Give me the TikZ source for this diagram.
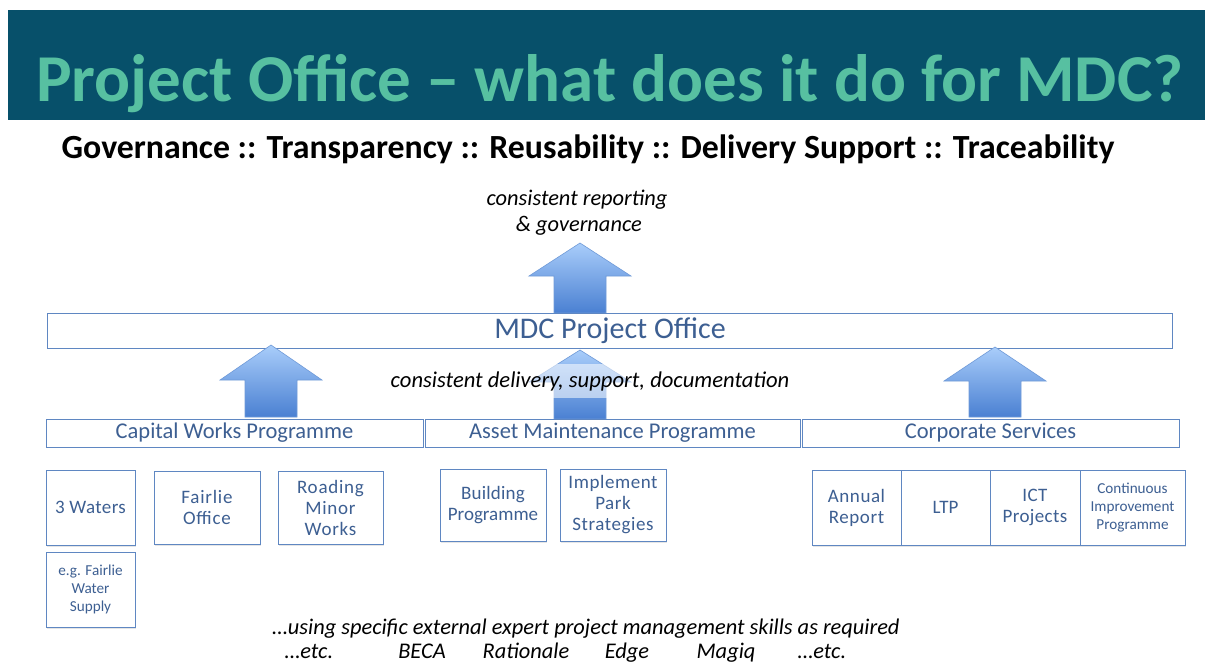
\documentclass[tikz,border=0pt]{standalone}
\usepackage{fontspec}
\setmainfont{Carlito}
\usetikzlibrary{shadows}
\definecolor{titlebg}{HTML}{07506A}
\definecolor{titlefg}{HTML}{57C0A1}
\definecolor{boxline}{HTML}{5F87C2}
\definecolor{boxtext}{HTML}{3D5F92}
\definecolor{arrowtop}{HTML}{A9CDFA}
\definecolor{arrowbot}{HTML}{4A80D2}
\definecolor{arrowline}{HTML}{6F9AD8}
% block arrow pointing up: centre x, tip y, shoulder y, base y
\newcommand{\blockup}[4]{%
  \shade[top color=arrowtop, bottom color=arrowbot, draw=arrowline, line width=0.6pt]
    (#1,#2) -- (#1+51,#3) -- (#1+26,#3) -- (#1+26,#4)
    -- (#1-26,#4) -- (#1-26,#3) -- (#1-51,#3) -- cycle;}
\newcommand{\spaced}[1]{\addfontfeature{LetterSpace=#1}}
\begin{document}
\begin{tikzpicture}[x=1pt, y=-1pt,
    barbox/.style={draw=boxline, fill=white, line width=0.8pt, text=boxtext,
      inner sep=0pt, font=\fontsize{22.5}{26}\selectfont},
    itembox/.style={draw=boxline, fill=white, line width=0.8pt, text=boxtext,
      align=center, inner sep=0pt, font=\fontsize{19}{21}\selectfont,
      drop shadow={opacity=0.2, shadow xshift=1pt, shadow yshift=-2pt}},
    smallbox/.style={itembox, font=\fontsize{15.2}{18}\selectfont},
    note/.style={align=center, font=\itshape\fontsize{22.4}{26}\selectfont}]
  \useasboundingbox[fill=white] (0,0) rectangle (1205,664);

  % title band
  \fill[titlebg] (8,10) rectangle (1205,120);
  \node[anchor=base, text=titlefg, font=\bfseries\fontsize{67}{74}\selectfont]
    (title) at (610,101) {Project Office -- what does it do for MDC?};
  \node[anchor=base, font=\bfseries\fontsize{33.8}{38}\selectfont]
    (aims) at (588,158) {Governance :: Transparency :: Reusability :: Delivery Support :: Traceability};

  % reporting upwards
  \node[note, anchor=base] (report) at (577,231) {consistent reporting\\\,\& governance};
  \blockup{580}{243}{276}{313}

  \node[barbox, minimum width=1125pt, minimum height=35pt,
    font=\fontsize{30}{34}\selectfont] (office) at (610,330.5) {MDC Project Office};

  \blockup{271}{345}{380}{417}
  \blockup{995}{347}{381}{417}
  \blockup{580}{350}{382}{419}
  \node[note, anchor=base, fill=white, fill opacity=0.55, text opacity=1,
    minimum height=34pt, font=\itshape\fontsize{22.6}{26}\selectfont]
    (delivery) at (590,387) {consistent delivery, support, documentation};

  % programmes
  \node[barbox, minimum width=377pt, minimum height=28pt] (capital) at (234.5,433) {Capital Works Programme};
  \node[barbox, minimum width=375pt, minimum height=28pt] (asset) at (612.5,433) {Asset Maintenance Programme};
  \node[barbox, minimum width=377pt, minimum height=28pt] (corporate) at (990.5,433) {Corporate Services};

  % projects
  \node[itembox, minimum width=89pt, minimum height=75pt] (waters) at (90.5,507.5) {\spaced{2}3 Waters};
  \node[smallbox, minimum width=89pt, minimum height=75pt] (fairliews) at (90.5,589.5) {e.g. Fairlie\\Water\\Supply};
  \node[itembox, minimum width=106pt, minimum height=73pt] (fairlie) at (207,507.5) {\spaced{4}Fairlie\\\spaced{4}Office};
  \node[itembox, minimum width=105pt, minimum height=73pt] (roading) at (330.5,507.5) {\spaced{4}Roading\\\spaced{4}Minor\\\spaced{4}Works};
  \node[itembox, minimum width=106pt, minimum height=72pt] (building) at (493,505) {\spaced{1}Building\\Programme};
  \node[itembox, minimum width=106pt, minimum height=72pt] (parks) at (613,505) {\spaced{3}Implement\\\spaced{3}Park\\\spaced{3}Strategies};
  \node[itembox, minimum width=89pt, minimum height=75pt] (annual) at (856.5,507.5) {\spaced{3}Annual\\\spaced{3}Report};
  \node[itembox, minimum width=89pt, minimum height=75pt] (ltp) at (945.5,507.5) {LTP};
  \node[itembox, minimum width=90pt, minimum height=75pt] (ict) at (1035,507.5) {\spaced{2}ICT\\\spaced{2}Projects};
  \node[smallbox, minimum width=105pt, minimum height=75pt] (improve) at (1132.5,507.5) {Continuous\\Improvement\\Programme};

  % external skills
  \node[note, anchor=base] (skills) at (586,634) {\dots using specific external expert project management skills as required};
  \node[note, anchor=base] (etcl) at (309,658) {\dots etc.};
  \node[note, anchor=base] (beca) at (422,658) {BECA};
  \node[note, anchor=base] (rationale) at (526,658) {Rationale};
  \node[note, anchor=base] (edge) at (627,658) {Edge};
  \node[note, anchor=base] (magiq) at (726,658) {Magiq};
  \node[note, anchor=base] (etcr) at (822,658) {\dots etc.};
\end{tikzpicture}
\end{document}
